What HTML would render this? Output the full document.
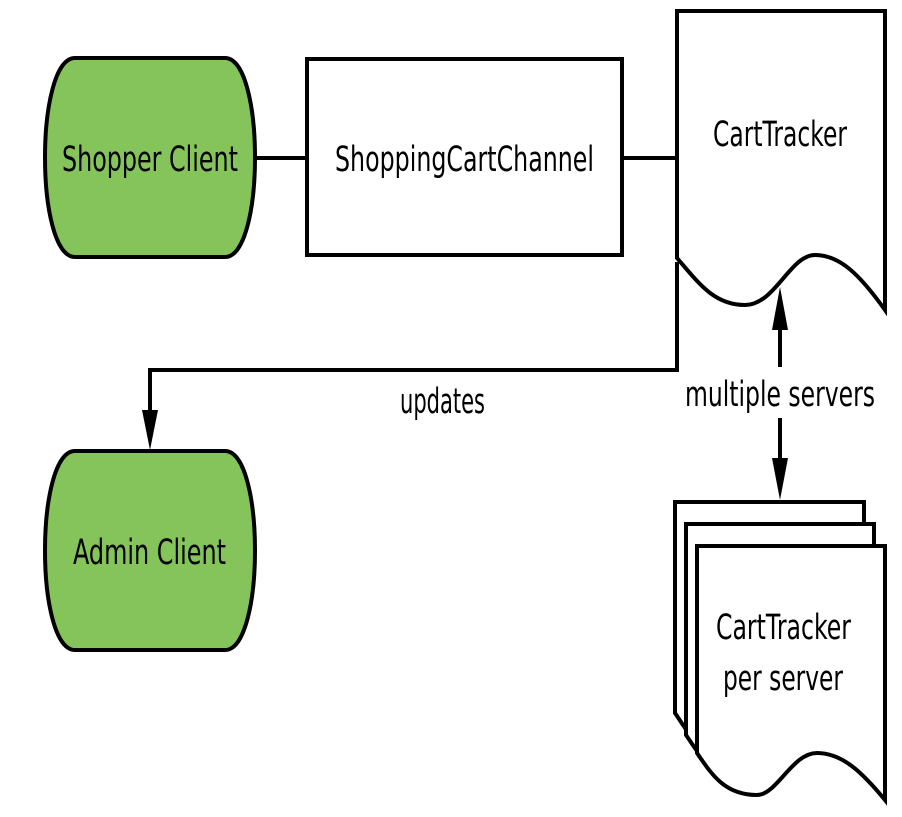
<!DOCTYPE html>
<html><head><style>html,body{margin:0;padding:0;background:#fff}svg{display:block}</style></head>
<body>
<svg width="902" height="817" viewBox="0 0 902 817" xmlns="http://www.w3.org/2000/svg" font-family="DejaVu Sans, Liberation Sans, sans-serif" font-size="35" fill="#000">
<g stroke="#000" stroke-width="4" fill="none">
<line x1="255" y1="158" x2="307" y2="158"/>
<line x1="622" y1="158" x2="677" y2="158"/>
<polyline points="677,262 677,370 150,370 150,415"/>
<line x1="780" y1="367" x2="780" y2="320"/>
<line x1="780" y1="418" x2="780" y2="465"/>
</g>
<polygon points="142,410 158,410 150,450" fill="#000"/>
<polygon points="772,330 788,330 780,287" fill="#000"/>
<polygon points="772,458 788,458 780,500" fill="#000"/>
<path d="M75,58 L225,58 C265,58 265,257 225,257 L75,257 C35,257 35,58 75,58 Z" fill="#84c45a" stroke="#000" stroke-width="4"/>
<path d="M75,451 L225,451 C265,451 265,650 225,650 L75,650 C35,650 35,451 75,451 Z" fill="#84c45a" stroke="#000" stroke-width="4"/>
<rect x="307" y="59" width="315" height="196" fill="#fff" stroke="#000" stroke-width="4"/>
<path d="M677,11 L885,11 L885,310 C860,275 840,255 815,255 C790,255 775,305 745,305 C715,305 700,285 677,258 Z" fill="#fff" stroke="#000" stroke-width="4"/>
<path d="M675,502 L864,502 L864,760 C840,730 820,710 795,710 C770,710 755,755 725,755 C700,755 690,735 675,713 Z" fill="#fff" stroke="#000" stroke-width="4"/>
<path d="M686,524 L874,524 L874,780 C850,750 830,730 805,730 C780,730 765,775 735,775 C710,775 700,755 686,735 Z" fill="#fff" stroke="#000" stroke-width="4"/>
<path d="M697,546 L885,546 L885,800 C862,772 842,753 817,753 C792,753 777,795 757,795 C725,795 712,775 697,753 Z" fill="#fff" stroke="#000" stroke-width="4"/>
<text x="62" y="171" textLength="176" lengthAdjust="spacingAndGlyphs">Shopper Client</text>
<text x="335" y="171" textLength="259" lengthAdjust="spacingAndGlyphs">ShoppingCartChannel</text>
<text x="713" y="146" textLength="134" lengthAdjust="spacingAndGlyphs">CartTracker</text>
<text x="73" y="564" textLength="153" lengthAdjust="spacingAndGlyphs">Admin Client</text>
<text x="400" y="413" textLength="85" lengthAdjust="spacingAndGlyphs">updates</text>
<text x="685" y="406" textLength="190" lengthAdjust="spacingAndGlyphs">multiple servers</text>
<text x="716" y="639" textLength="135" lengthAdjust="spacingAndGlyphs">CartTracker</text>
<text x="723" y="690" textLength="120" lengthAdjust="spacingAndGlyphs">per server</text>
</svg>
</body></html>
